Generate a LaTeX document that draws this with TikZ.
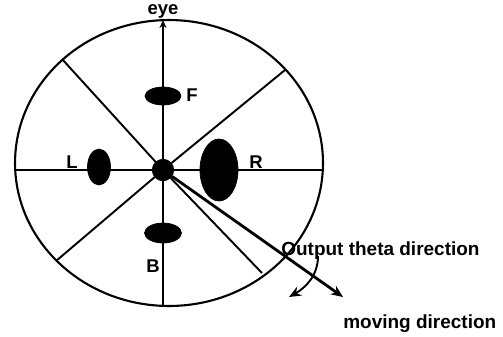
\documentclass[tikz,border=0pt]{standalone}
\usepackage{fontspec}
\setmainfont{Liberation Sans}
\usepackage{tikz}
\usetikzlibrary{arrows.meta, positioning, shapes.geometric}

\begin{document}
\begin{tikzpicture}[
    x=0.02cm, y=-0.02cm,
    >={Stealth[length=2.4mm, width=2mm]},
    blob/.style={draw, fill=black, ellipse, inner sep=0pt},
    hub/.style={draw, fill=black, circle, minimum size=4.3mm, inner sep=0pt},
    lbl/.style={font=\bfseries\fontsize{10.5}{12}\selectfont, inner sep=1pt},
    note/.style={font=\bfseries\fontsize{10.8}{12}\selectfont, inner sep=0pt},
    spoke/.style={line width=1.1pt},
    rim/.style={line width=1.2pt}]

  \useasboundingbox (0,0) rectangle (503,336);

  % The outer ring and the hub in the middle.
  \node[draw, ellipse, rim, minimum width=6.16cm, minimum height=5.72cm, inner sep=0pt] (ring) at (169,163) {};
  \node[hub] (c) at (163,170) {};

  % Ends of the spokes on the ring.
  \coordinate (top) at (163,20);
  \coordinate (bot) at (163,306);
  \coordinate (lft) at (15,170);
  \coordinate (rgt) at (323,170);
  \coordinate (ul) at (62,59);
  \coordinate (ur) at (285,70);
  \coordinate (ll) at (56,261);
  \coordinate (lr) at (262,273);
  \foreach \e in {bot, lft, rgt, ul, ur, ll, lr}
    \draw[spoke] (c) -- (\e);
  \draw[spoke, ->, >={Stealth[length=1.6mm, width=1.4mm]}] (c) -- (top);
  \node[lbl] (eye) at (163,11) {eye};

  % The four sensors round the hub.
  \node[blob, minimum width=7.2mm, minimum height=3.6mm] (f) at (163,96) {};
  \node[blob, minimum width=7.4mm, minimum height=4mm] (b) at (163,233) {};
  \node[blob, minimum width=4.6mm, minimum height=7.2mm] (l) at (99,167) {};
  \node[blob, minimum width=7.6mm, minimum height=12.4mm] (r) at (219,170) {};
  \node[lbl] (fl) at (192,95) {F};
  \node[lbl] (bl) at (153,266) {B};
  \node[lbl] (ll2) at (72,162) {L};
  \node[lbl] (rl) at (256,162) {R};

  % Moving direction and the turn that comes out.
  \coordinate (mv) at (343,297);
  \draw[line width=1.6pt, ->] (c) -- (mv);
  \node[note, anchor=base west] (theta) at (281,255) {Output theta direction};
  \node[note, anchor=base west] (move) at (343,328) {moving direction};
  \coordinate (t0) at (318,256);
  \coordinate (t1) at (289,297);
  \draw[line width=1.1pt, ->] (t0) .. controls (318,276) and (305,288) .. (t1);
\end{tikzpicture}
\end{document}
